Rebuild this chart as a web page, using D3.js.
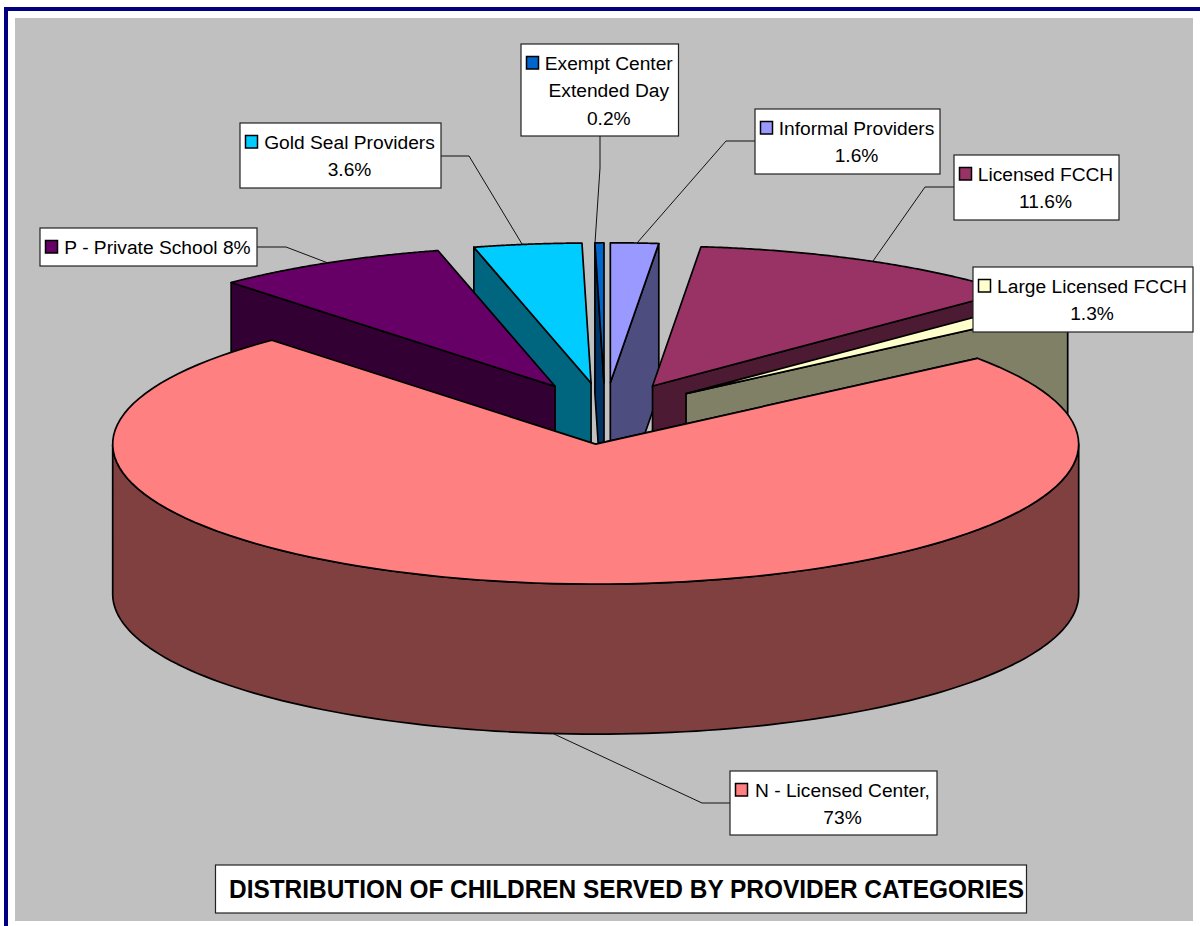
<!DOCTYPE html>
<html>
<head>
<meta charset="utf-8">
<style>
  html, body { margin: 0; padding: 0; background: #fff; }
  svg { display: block; }
  text { font-family: "Liberation Sans", Arial, sans-serif; fill: #000; }
</style>
<script src="https://cdn.jsdelivr.net/npm/d3@7/dist/d3.min.js"></script>
</head>
<body>
<div id="app"></div>
<script>
const categories = ["N - Licensed Center", "P - Private School", "Gold Seal Providers", "Exempt Center Extended Day", "Informal Providers", "Licensed FCCH", "Large Licensed FCCH"];
const values = [73.8, 7.8, 3.6, 0.3, 1.6, 11.6, 1.3];
const labelLines = [
  ["N - Licensed Center,", "73%"],
  ["P - Private School 8%"],
  ["Gold Seal Providers", "3.6%"],
  ["Exempt Center", "Extended Day", "0.2%"],
  ["Informal Providers", "1.6%"],
  ["Licensed FCCH", "11.6%"],
  ["Large Licensed FCCH", "1.3%"]
];
const topColors = ["#FF8080", "#660066", "#00CCFF", "#0066CC", "#9999FF", "#993366", "#FFFFCC"];
const sideColors = ["#804040", "#330033", "#006680", "#003366", "#4D4D80", "#4D1A33", "#808066"];
const chartTitle = "DISTRIBUTION OF CHILDREN SERVED BY PROVIDER CATEGORIES";

// label boxes and leader lines, in page pixels
const labelBoxes = [
  {x: 730, y: 771, w: 207, h: 64, leader: [[730, 803], [702, 803], [554, 734]]},
  {x: 40, y: 228, w: 217, h: 38, leader: [[257, 247], [286, 247], [328, 263]]},
  {x: 240, y: 123, w: 201, h: 65, leader: [[441, 156], [469, 156], [522, 244]]},
  {x: 521, y: 44, w: 157.5, h: 92, leader: [[600, 136], [600, 168], [595, 243]]},
  {x: 755, y: 109, w: 185, h: 65, leader: [[755, 141], [726, 141], [637, 243]]},
  {x: 954, y: 155, w: 165, h: 65, leader: [[954, 187], [925, 187], [873, 261]]},
  {x: 973, y: 267, w: 220, h: 65, leader: null}
];

const width = 1200, height = 926;
const cx = 605, cy = 413.5, rx = 483, ry = 140;
const depth = 150, explode = 0.2195;
const rad = d => d * Math.PI / 180;

const x = d3.scaleLinear().domain([-1, 1]).range([cx - rx, cx + rx]);
const y = d3.scaleLinear().domain([-1, 1]).range([cy + ry, cy - ry]);
const line = d3.line();

const svg = d3.select("#app").append("svg")
    .attr("width", width)
    .attr("height", height);

// page frame
svg.append("rect").attr("x", 4).attr("y", 7).attr("width", 1196).attr("height", 4).attr("fill", "#000080");
svg.append("rect").attr("x", 4).attr("y", 7).attr("width", 4).attr("height", 919).attr("fill", "#000080");
svg.append("rect").attr("x", 15).attr("y", 18).attr("width", 1178).attr("height", 903).attr("fill", "#C0C0C0");

const pie = d3.pie().sort(null).value(d => d)
    .startAngle(rad(52.2)).endAngle(rad(52.2 + 360));

const slices = pie(values).map(d => {
  const mid = (d.startAngle + d.endAngle) / 2;
  return {
    index: d.index,
    startAngle: d.startAngle,
    endAngle: d.endAngle,
    mid,
    ox: explode * Math.sin(mid),
    oy: explode * Math.cos(mid)
  };
});

const rim = (s, a) => [x(s.ox + Math.sin(a)), y(s.oy + Math.cos(a))];
const drop = p => [p[0], p[1] + depth];
const apex = s => [x(s.ox), y(s.oy)];
const arcPoints = (s, a0, a1) => d3.range(0, 121).map(i => rim(s, a0 + (a1 - a0) * i / 120));

// back to front: the slices furthest up the pie first, N last
const order = slices.slice().sort((a, b) => d3.descending(Math.cos(a.mid), Math.cos(b.mid)));

const pieG = svg.append("g")
    .attr("stroke", "#000")
    .attr("stroke-width", 1.7)
    .attr("stroke-linejoin", "round");

order.forEach(s => {
  // radial wall facing the viewer
  const edge = Math.sin(s.mid) < 0 ? s.startAngle : s.endAngle;
  const a = apex(s), e = rim(s, edge);
  pieG.append("path")
      .attr("d", line([a, e, drop(e), drop(a)]) + "Z")
      .attr("fill", sideColors[s.index]);

  // outer wall, only the front half of the ellipse shows
  const from = Math.max(s.startAngle, rad(90)), to = Math.min(s.endAngle, rad(270));
  if (to > from) {
    const arc = arcPoints(s, from, to);
    pieG.append("path")
        .attr("d", line(arc.concat(arc.map(drop).reverse())) + "Z")
        .attr("fill", sideColors[s.index]);
  }

  // top face
  pieG.append("path")
      .attr("d", line([a].concat(arcPoints(s, s.startAngle, s.endAngle))) + "Z")
      .attr("fill", topColors[s.index]);
});

// leader lines
svg.append("g").selectAll("path")
  .data(labelBoxes.filter(b => b.leader))
  .join("path")
    .attr("d", b => line(b.leader))
    .attr("fill", "none")
    .attr("stroke", "#111")
    .attr("stroke-width", 1);

// data labels
const labels = svg.append("g").selectAll("g")
  .data(labelBoxes)
  .join("g")
    .attr("transform", b => "translate(" + b.x + "," + b.y + ")");

labels.append("rect")
    .attr("width", b => b.w)
    .attr("height", b => b.h)
    .attr("fill", "#fff")
    .attr("stroke", "#222")
    .attr("stroke-width", 1.2);

labels.append("rect")
    .attr("x", 5.5)
    .attr("y", 12.5)
    .attr("width", 12)
    .attr("height", 12.5)
    .attr("fill", (b, i) => topColors[i])
    .attr("stroke", "#000")
    .attr("stroke-width", 1.5);

labels.each(function(b, i) {
  d3.select(this).selectAll("text")
    .data(labelLines[i])
    .join("text")
      .attr("x", b.w / 2 + 9)
      .attr("y", (t, k) => 25.7 + 27.7 * k)
      .attr("text-anchor", "middle")
      .attr("font-size", 19.2)
      .text(t => t);
});

// title box
svg.append("rect")
    .attr("x", 215.5).attr("y", 865).attr("width", 811).attr("height", 48)
    .attr("fill", "#fff")
    .attr("stroke", "#222")
    .attr("stroke-width", 1.2);

svg.append("text")
    .attr("x", 229)
    .attr("y", 898)
    .attr("font-size", 25)
    .attr("font-weight", "bold")
    .attr("textLength", 795)
    .attr("lengthAdjust", "spacingAndGlyphs")
    .text(chartTitle);
</script>
</body>
</html>
